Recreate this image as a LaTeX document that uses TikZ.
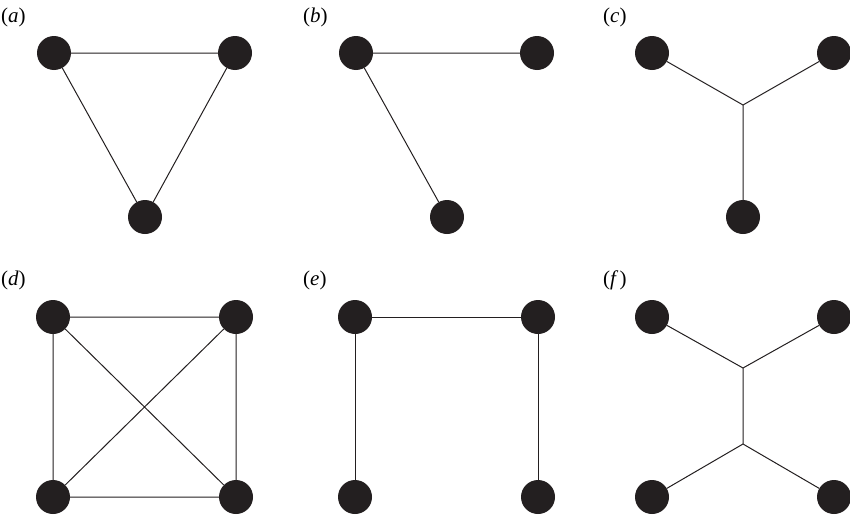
\documentclass[tikz,border=0pt]{standalone}
\usepackage{fontspec}
\setmainfont{Liberation Serif}
\definecolor{dotcol}{HTML}{231F20}
\tikzset{
  vtx/.style={circle,fill=dotcol,draw=none,minimum size=34pt,inner sep=0pt},
  edge/.style={draw=dotcol,line width=1pt},
  lbl/.style={anchor=west,inner sep=0pt,font=\fontsize{21}{24}\selectfont},
}
\begin{document}
\begin{tikzpicture}[x=1pt,y=-1pt]
\useasboundingbox (0,0) rectangle (850,514);
% (a)
\node[lbl] (la) at (1,17) {(\textit{a})};
\node[vtx] (a1) at (54,53) {};
\node[vtx] (a2) at (235,53) {};
\node[vtx] (a3) at (145,217) {};
\draw[edge] (a1) -- (a2) (a2) -- (a3) (a3) -- (a1);
% (b)
\node[lbl] (lb) at (303,17) {(\textit{b})};
\node[vtx] (b1) at (356,53) {};
\node[vtx] (b2) at (537,53) {};
\node[vtx] (b3) at (447,217) {};
\draw[edge] (b1) -- (b2) (b1) -- (b3);
% (c)
\node[lbl] (lc) at (603,17) {(\textit{c})};
\node[vtx] (c1) at (652,53) {};
\node[vtx] (c2) at (834,53) {};
\node[vtx] (c3) at (743,217) {};
\coordinate (cj) at (743,105);
\draw[edge] (c1) -- (cj) (c2) -- (cj) (c3) -- (cj);
% (d)
\node[lbl] (ld) at (1,280) {(\textit{d})};
\node[vtx] (d1) at (53,317) {};
\node[vtx] (d2) at (236,317) {};
\node[vtx] (d3) at (53,497) {};
\node[vtx] (d4) at (236,497) {};
\draw[edge] (d1) -- (d2) (d3) -- (d4) (d1) -- (d3) (d2) -- (d4) (d1) -- (d4) (d2) -- (d3);
% (e)
\node[lbl] (le) at (303,280) {(\textit{e})};
\node[vtx] (e1) at (355,317) {};
\node[vtx] (e2) at (538,317) {};
\node[vtx] (e3) at (355,497) {};
\node[vtx] (e4) at (538,497) {};
\draw[edge] (e1) -- (e2) (e1) -- (e3) (e2) -- (e4);
% (f)
\node[lbl] (lf) at (603,280) {(\textit{f\,})};
\node[vtx] (f1) at (652,317) {};
\node[vtx] (f2) at (834,317) {};
\node[vtx] (f3) at (652,497) {};
\node[vtx] (f4) at (834,497) {};
\coordinate (fj1) at (743,368);
\coordinate (fj2) at (743,444);
\draw[edge] (f1) -- (fj1) (f2) -- (fj1) (fj1) -- (fj2) (fj2) -- (f3) (fj2) -- (f4);
\end{tikzpicture}
\end{document}
